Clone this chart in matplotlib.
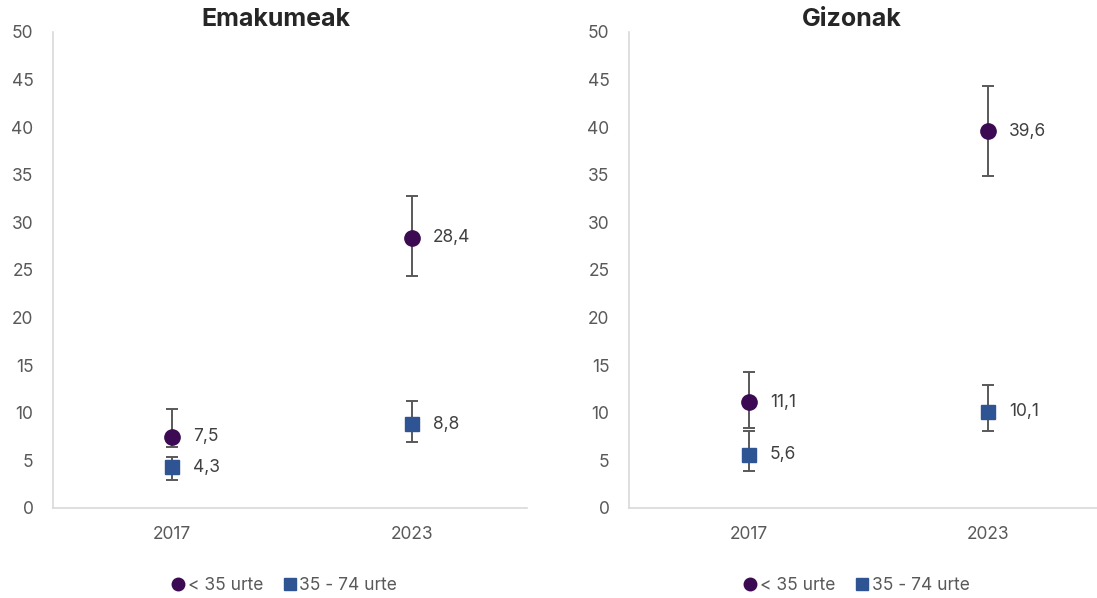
import matplotlib
matplotlib.use("Agg")
import matplotlib.pyplot as plt
from matplotlib.lines import Line2D

plt.rcParams['font.family'] = ['Inter', 'DejaVu Sans']

# data
years = ['2017', '2023']
series_names = ['< 35 urte', '35 - 74 urte']

women_young = [7.5, 28.4]
women_young_lo = [6.4, 24.4]
women_young_hi = [10.4, 32.8]
women_old = [4.3, 8.8]
women_old_lo = [2.9, 6.9]
women_old_hi = [5.4, 11.2]

men_young = [11.1, 39.6]
men_young_lo = [8.4, 34.9]
men_young_hi = [14.3, 44.3]
men_old = [5.6, 10.1]
men_old_lo = [3.9, 8.1]
men_old_hi = [8.1, 12.9]

PURPLE = '#3B0A52'
BLUE = '#2F5493'
ERR = '#595959'
TEXT = '#404040'
SPINE = '#D9D9D9'
FS = 12.5


def fmt(v):
    return f"{v:.1f}".replace('.', ',')


def draw_panel(ax, young, ylo, yhi, old, olo, ohi, xlim, legend_x):
    x = list(range(len(years)))
    for vals, lo, hi, marker, color, ms in [
        (young, ylo, yhi, 'o', PURPLE, 11),
        (old, olo, ohi, 's', BLUE, 10),
    ]:
        err = [[v - l for v, l in zip(vals, lo)], [h - v for v, h in zip(vals, hi)]]
        ax.errorbar(x, vals, yerr=err, fmt='none', ecolor=ERR, elinewidth=1.4,
                    capsize=4.5, capthick=1.4, zorder=2)
        ax.plot(x, vals, linestyle='none', marker=marker, color=color,
                markersize=ms, zorder=3)
        for xi, v in zip(x, vals):
            ax.annotate(fmt(v), (xi, v), xytext=(15, 0), textcoords='offset points',
                        ha='left', va='center', fontsize=FS, color=TEXT)

    ax.set_xlim(*xlim)
    ax.set_ylim(0, 50)
    ax.set_yticks(range(0, 51, 5))
    ax.set_xticks(x)
    ax.set_xticklabels(years)
    ax.tick_params(axis='both', length=0, labelsize=FS, colors='#595959')
    ax.tick_params(axis='y', pad=14)
    ax.tick_params(axis='x', pad=13)
    for side in ['top', 'right']:
        ax.spines[side].set_visible(False)
    for side in ['left', 'bottom']:
        ax.spines[side].set_color(SPINE)
        ax.spines[side].set_linewidth(1.2)

    handles = [
        Line2D([], [], linestyle='none', marker='o', color=PURPLE, markersize=9),
        Line2D([], [], linestyle='none', marker='s', color=BLUE, markersize=8),
    ]
    leg = ax.legend(handles, series_names, loc='center', bbox_to_anchor=(legend_x, -0.162),
                    ncol=2, frameon=False, fontsize=FS, handletextpad=0.0,
                    columnspacing=1.0, handlelength=1.1)
    for t in leg.get_texts():
        t.set_color('#595959')


fig = plt.figure(figsize=(10.97, 5.98), dpi=100)
ax1 = fig.add_axes([53 / 1097, 90 / 598, 474 / 1097, 476 / 598])
ax2 = fig.add_axes([629 / 1097, 90 / 598, 468 / 1097, 476 / 598])

draw_panel(ax1, women_young, women_young_lo, women_young_hi,
           women_old, women_old_lo, women_old_hi, (-0.496, 1.48), 0.485)
draw_panel(ax2, men_young, men_young_lo, men_young_hi,
           men_old, men_old_lo, men_old_hi, (-0.502, 1.456), 0.483)

# panel titles sit slightly left of the axes centres in the original
fig.text(276 / 1097, 1 - 20 / 598, 'Emakumeak', ha='center', va='center',
         fontsize=18, fontweight='bold', color='#262626')
fig.text(852 / 1097, 1 - 20 / 598, 'Gizonak', ha='center', va='center',
         fontsize=18, fontweight='bold', color='#262626')

fig.savefig('out.png', dpi=100)
